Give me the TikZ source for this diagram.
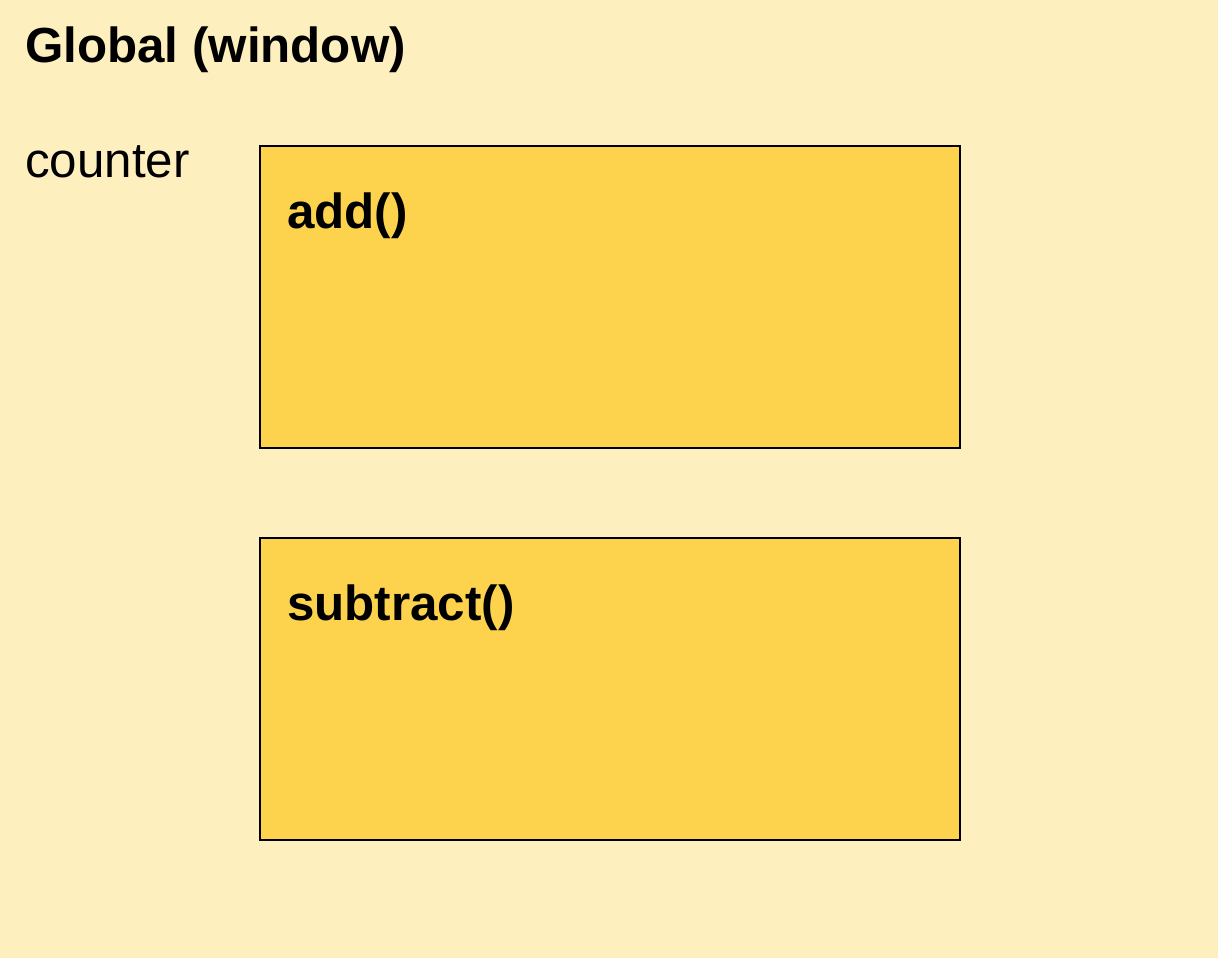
\documentclass[tikz,border=0pt]{standalone}
\usepackage{fontspec}
\setmainfont{Liberation Sans}
\definecolor{bgc}{HTML}{FEEFBE}
\definecolor{boxc}{HTML}{FDD34D}
\begin{document}
\begin{tikzpicture}[x=1pt,y=-1pt,
  lbl/.style={anchor=base west,inner sep=0pt,font=\fontsize{49.3}{56}\selectfont},
  blbl/.style={lbl,font=\fontsize{49.3}{56}\selectfont\bfseries},
  fnbox/.style={draw=black,line width=2pt,fill=boxc}]
\fill[bgc] (0,0) rectangle (1218,958);
\useasboundingbox (0,0) rectangle (1218,958);
\node[blbl] (global) at (25,63) {Global (window)};
\node[lbl] (counter) at (25,177) {counter};
\draw[fnbox] (260,146) rectangle (960,448);
\coordinate (addbox) at (260,146);
\node[blbl] (add) at (287,228) {add()};
\draw[fnbox] (260,538) rectangle (960,840);
\coordinate (subbox) at (260,538);
\node[blbl] (sub) at (287,620) {subtract()};
\end{tikzpicture}
\end{document}
